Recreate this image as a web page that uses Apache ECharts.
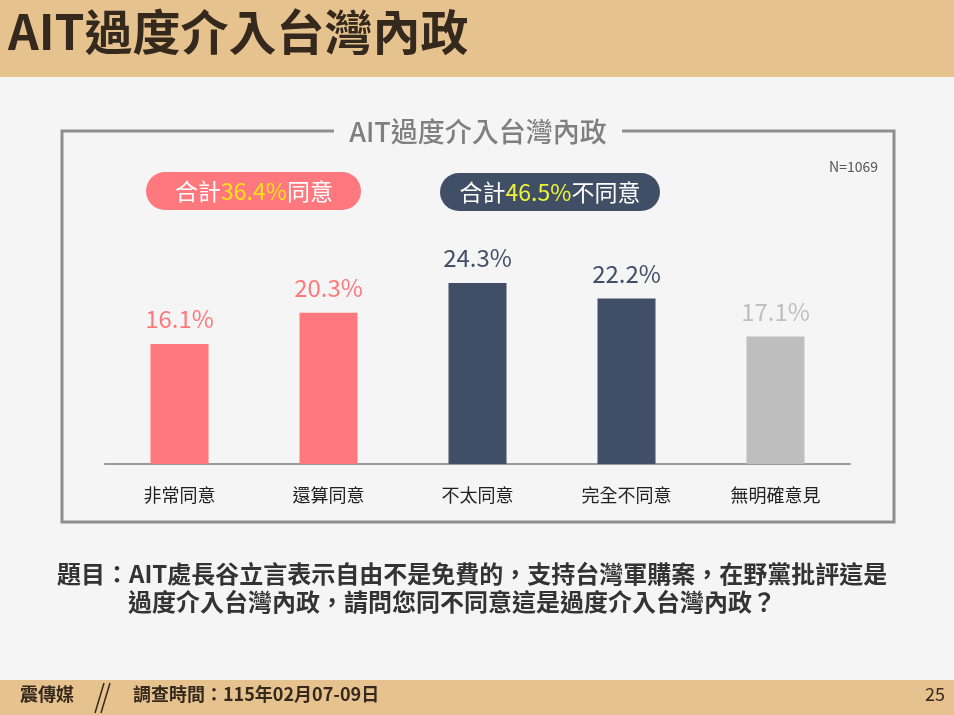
<!DOCTYPE html>
<html>
<head>
<meta charset="utf-8">
<script src="https://cdn.jsdelivr.net/npm/echarts@6/dist/echarts.min.js"></script>
<style>
  html, body { margin: 0; padding: 0; background: #f5f5f5; }
  #chart { width: 954px; height: 715px; }
</style>
</head>
<body>
<div id="chart"></div>
<script>
// survey data
const categories = ['非常同意', '還算同意', '不太同意', '完全不同意', '無明確意見'];
const values = [16.1, 20.3, 24.3, 22.2, 17.1];
const barColors = ['#ff787d', '#ff787d', '#414f66', '#414f66', '#bebebe'];
const agreeTotal = '36.4%';
const disagreeTotal = '46.5%';
const sampleSize = 'N=1069';

const FONT = '"Noto Sans CJK TC", "Noto Sans", sans-serif';
const chart = echarts.init(document.getElementById('chart'));

chart.setOption({
  animation: false,
  backgroundColor: '#f5f5f5',
  textStyle: { fontFamily: FONT },
  grid: { left: 105, right: 104, top: 240.5, bottom: 251 },
  xAxis: {
    type: 'category',
    data: categories,
    axisLine: { lineStyle: { color: '#9a9a9a', width: 2 } },
    axisTick: { show: false },
    axisLabel: { color: '#222', fontSize: 18, margin: 22, fontFamily: FONT }
  },
  yAxis: {
    type: 'value',
    min: 0,
    max: 30,
    show: false,
    splitLine: { show: false }
  },
  series: [{
    type: 'bar',
    barWidth: 58,
    data: values.map((v, i) => ({
      value: v,
      itemStyle: { color: barColors[i] },
      label: { color: barColors[i] }
    })),
    label: {
      show: true,
      position: 'top',
      distance: 13,
      fontSize: 24,
      fontFamily: FONT,
      formatter: p => p.value.toFixed(1) + '%'
    }
  }],
  graphic: [
    // header band
    { type: 'rect', left: 0, top: 0, shape: { width: 954, height: 77 }, style: { fill: '#e6c28e' }, z: -1 },
    { type: 'text', left: 8, top: 8, style: { text: 'AIT過度介入台灣內政', fill: '#35281d', font: 'bold 48px ' + FONT } },

    // frame with gap for title
    { type: 'polyline', shape: { points: [[334, 131], [62, 131], [62, 522], [894, 522], [894, 131], [622, 131]] },
      style: { stroke: '#8f8f8f', lineWidth: 3, fill: null } },
    { type: 'text', x: 478, y: 132, style: { text: 'AIT過度介入台灣內政', fill: '#7f7f7f', font: '500 27px ' + FONT, align: 'center', verticalAlign: 'middle' } },
    { type: 'text', x: 878, y: 167, style: { text: sampleSize, fill: '#555', font: '14px ' + FONT, align: 'right', verticalAlign: 'middle' } },

    // summary pills
    { type: 'rect', shape: { x: 146, y: 172, width: 215, height: 38, r: 19 }, style: { fill: '#ff787d' } },
    { type: 'text', x: 254, y: 191, style: {
        text: '{w|合計}{y|' + agreeTotal + '}{w|同意}', align: 'center', verticalAlign: 'middle',
        rich: {
          w: { fill: '#fff', fontSize: 23, fontFamily: FONT },
          y: { fill: '#ffe21a', fontSize: 23, fontFamily: FONT }
        }
      } },
    { type: 'rect', shape: { x: 440, y: 173, width: 220, height: 38, r: 19 }, style: { fill: '#414f66' } },
    { type: 'text', x: 550, y: 192, style: {
        text: '{w|合計}{y|' + disagreeTotal + '}{w|不同意}', align: 'center', verticalAlign: 'middle',
        rich: {
          w: { fill: '#fff', fontSize: 23, fontFamily: FONT },
          y: { fill: '#ecf53a', fontSize: 23, fontFamily: FONT }
        }
      } },

    // question
    { type: 'text', left: 57, top: 562, style: { text: '題目：AIT處長谷立言表示自由不是免費的，支持台灣軍購案，在野黨批評這是', fill: '#333', font: 'bold 24px ' + FONT } },
    { type: 'text', left: 128, top: 590, style: { text: '過度介入台灣內政，請問您同不同意這是過度介入台灣內政？', fill: '#333', font: 'bold 24px ' + FONT } },

    // footer band
    { type: 'rect', left: 0, top: 680, shape: { width: 954, height: 35 }, style: { fill: '#e6c28e' }, z: -1 },
    { type: 'text', left: 20, top: 685, style: { text: '震傳媒', fill: '#35281d', font: 'bold 18px ' + FONT } },
    { type: 'line', shape: { x1: 95, y1: 713, x2: 104, y2: 683 }, style: { stroke: '#35281d', lineWidth: 1.5 } },
    { type: 'line', shape: { x1: 101, y1: 713, x2: 110, y2: 683 }, style: { stroke: '#35281d', lineWidth: 1.5 } },
    { type: 'text', left: 133, top: 685, style: { text: '調查時間：115年02月07-09日', fill: '#35281d', font: 'bold 18px ' + FONT } },
    { type: 'text', right: 9, top: 685, style: { text: '25', fill: '#35281d', font: '18px ' + FONT } }
  ]
});
</script>
</body>
</html>
